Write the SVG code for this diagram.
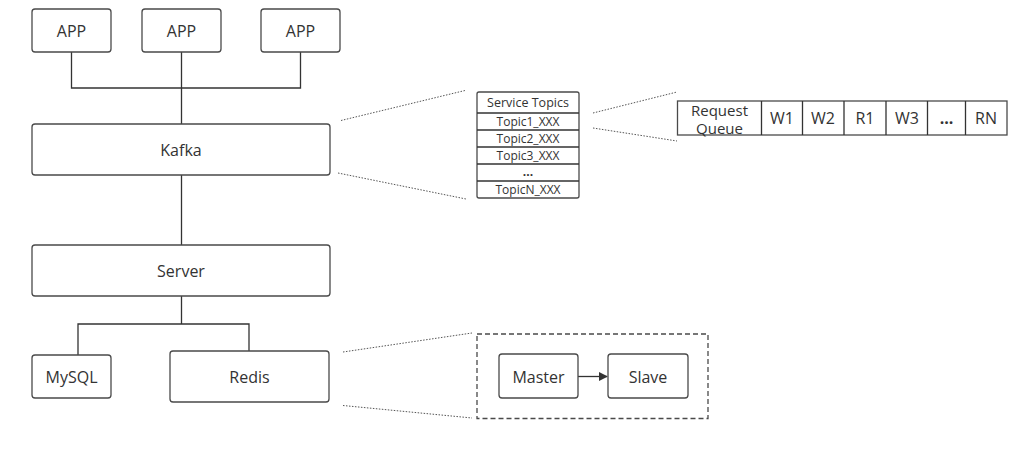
<svg xmlns="http://www.w3.org/2000/svg" width="1024" height="461" viewBox="0 0 1024 461">
<defs>
<style>
.box{fill:#fff;stroke:#4a4a4a;stroke-width:1.3}
.t{font-family:"Open Sans","Noto Sans",sans-serif;fill:#333;text-anchor:middle;dominant-baseline:central}
.l16{font-size:16px}
.q{font-size:15px}
.s11{font-size:12.5px}
.s10{font-size:12px}
.ln{stroke:#333;stroke-width:1.3;fill:none}
.dot{stroke:#555;stroke-width:1;stroke-dasharray:1.5 1.5;fill:none}
.dash{fill:none;stroke:#4a4a4a;stroke-width:1.3;stroke-dasharray:5 3}
</style>
<marker id="arr" viewBox="0 0 10 10" refX="9" refY="5" markerWidth="9" markerHeight="9" markerUnits="userSpaceOnUse" orient="auto">
<path d="M0,0 L10,5 L0,10 z" fill="#333"/>
</marker>
</defs>
<rect width="1024" height="461" fill="#fff"/>
<g id="connectors">
<path class="ln" d="M71.5,52 V88 H300.5 V52 M181.5,52 V124"/>
<path class="ln" d="M181.5,175 V245"/>
<path class="ln" d="M181.5,296 V324 M78,355 V324 H249 V351"/>
<line class="ln" x1="578" y1="376.5" x2="607" y2="376.5" marker-end="url(#arr)"/>
<line class="dot" x1="341" y1="120.5" x2="465" y2="90.5"/>
<line class="dot" x1="338" y1="173" x2="466" y2="199"/>
<line class="dot" x1="593" y1="113" x2="677" y2="92"/>
<line class="dot" x1="593" y1="128" x2="677" y2="141"/>
<line class="dot" x1="343" y1="352" x2="472" y2="333"/>
<line class="dot" x1="343" y1="405.5" x2="472" y2="418"/>
</g>
<g id="app1"><rect class="box" x="32" y="9" width="79" height="43" rx="3"/><text class="t l16" x="71.5" y="30.5">APP</text></g>
<g id="app2"><rect class="box" x="142" y="9" width="79" height="43" rx="3"/><text class="t l16" x="181.5" y="30.5">APP</text></g>
<g id="app3"><rect class="box" x="261" y="9" width="79" height="43" rx="3"/><text class="t l16" x="300.5" y="30.5">APP</text></g>
<g id="kafka"><rect class="box" x="32" y="124" width="298" height="51" rx="3"/><text class="t l16" x="181" y="150">Kafka</text></g>
<g id="server"><rect class="box" x="32" y="245" width="298" height="51" rx="3"/><text class="t l16" x="181" y="271">Server</text></g>
<g id="mysql"><rect class="box" x="32" y="355" width="79" height="43" rx="3"/><text class="t l16" x="71.5" y="377">MySQL</text></g>
<g id="redis"><rect class="box" x="170" y="351" width="159" height="51" rx="3"/><text class="t l16" x="249.5" y="377">Redis</text></g>
<g id="topics">
<rect class="box" x="477" y="92" width="102" height="106" rx="2"/>
<path class="ln" d="M477,113 H579 M477,130 H579 M477,147 H579 M477,164 H579 M477,181 H579"/>
<text class="t s11" x="528" y="102.5">Service Topics</text>
<text class="t s10" x="528" y="121.5">Topic1_XXX</text>
<text class="t s10" x="528" y="138.5">Topic2_XXX</text>
<text class="t s10" x="528" y="155.5">Topic3_XXX</text>
<text class="t s10" x="528" y="171" font-weight="bold">...</text>
<text class="t s10" x="528" y="189.5">TopicN_XXX</text>
</g>
<g id="queue">
<rect class="box" x="677.5" y="101" width="329.5" height="34" rx="0"/>
<path class="ln" d="M761.5,101 V135 M802.5,101 V135 M844,101 V135 M886,101 V135 M927.5,101 V135 M965.5,101 V135"/>
<text class="t q" x="719.5" y="109.5">Request</text>
<text class="t q" x="719.5" y="127.5">Queue</text>
<text class="t l16" x="782" y="118">W1</text>
<text class="t l16" x="823" y="118">W2</text>
<text class="t l16" x="865" y="118">R1</text>
<text class="t l16" x="907" y="118">W3</text>
<text class="t l16" x="946.5" y="118" font-weight="bold">...</text>
<text class="t l16" x="986" y="118">RN</text>
</g>
<g id="redis-cluster">
<rect class="dash" x="477" y="334" width="231" height="84.5"/>
</g>
<g id="master"><rect class="box" x="499" y="354" width="79" height="44" rx="3"/><text class="t l16" x="538.5" y="376.5">Master</text></g>
<g id="slave"><rect class="box" x="608" y="354" width="80" height="44" rx="3"/><text class="t l16" x="648" y="376.5">Slave</text></g>
</svg>
